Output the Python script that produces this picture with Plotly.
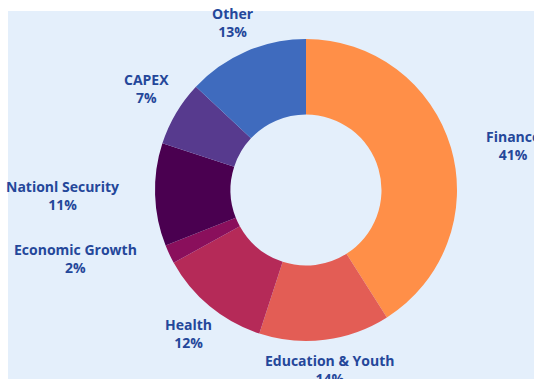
import math
import plotly.graph_objects as go

labels = ["Finance", "Education & Youth", "Health", "Economic Growth",
          "Nationl Security", "CAPEX", "Other"]
values = [41, 14, 12, 2, 11, 7, 13]
colors = ["#FF8F48", "#E35D55", "#B52A58", "#8A0F5C", "#4A0050", "#573A8E", "#3F6BBE"]

W, H = 534, 379
CX, CY = 306, 190          # pie centre in px
RX, RY = 185, 160          # label ring radii in px
FONT = dict(family="Open Sans", size=14, color="#24479A", weight="bold")

fig = go.Figure(go.Pie(
    labels=labels,
    values=values,
    hole=0.5,
    sort=False,
    direction="clockwise",
    rotation=0,
    marker=dict(colors=colors, line=dict(width=0)),
    textinfo="none",
    showlegend=False,
    domain=dict(x=[(CX - 151) / W, (CX + 151) / W], y=[1 - (CY + 151) / H, 1 - (CY - 151) / H]),
))

total = sum(values)
annotations = []
cum = 0
for lab, v in zip(labels, values):
    mid = (cum + v / 2) / total * 2 * math.pi
    cum += v
    s, c = math.sin(mid), math.cos(mid)
    px = CX + RX * s
    py = CY - RY * c
    xa = "left" if s > 0.88 else ("right" if s < -0.88 else "center")
    ya = "bottom" if c > 0.45 else ("top" if c < -0.45 else "middle")
    annotations.append(dict(
        x=px / W, y=1 - py / H, xref="paper", yref="paper",
        text=f"{lab}<br>{round(v / total * 100)}%",
        showarrow=False, xanchor=xa, yanchor=ya, align="center",
        font=FONT,
    ))

fig.update_layout(
    width=W, height=H,
    margin=dict(l=0, r=0, t=0, b=0),
    paper_bgcolor="white",
    annotations=annotations,
    shapes=[dict(type="rect", xref="paper", yref="paper",
                 x0=8 / W, x1=1.01, y0=-0.01, y1=1 - 11 / H,
                 fillcolor="#E4EFFB", line=dict(width=0), layer="below")],
)

fig.write_html("out.html")
